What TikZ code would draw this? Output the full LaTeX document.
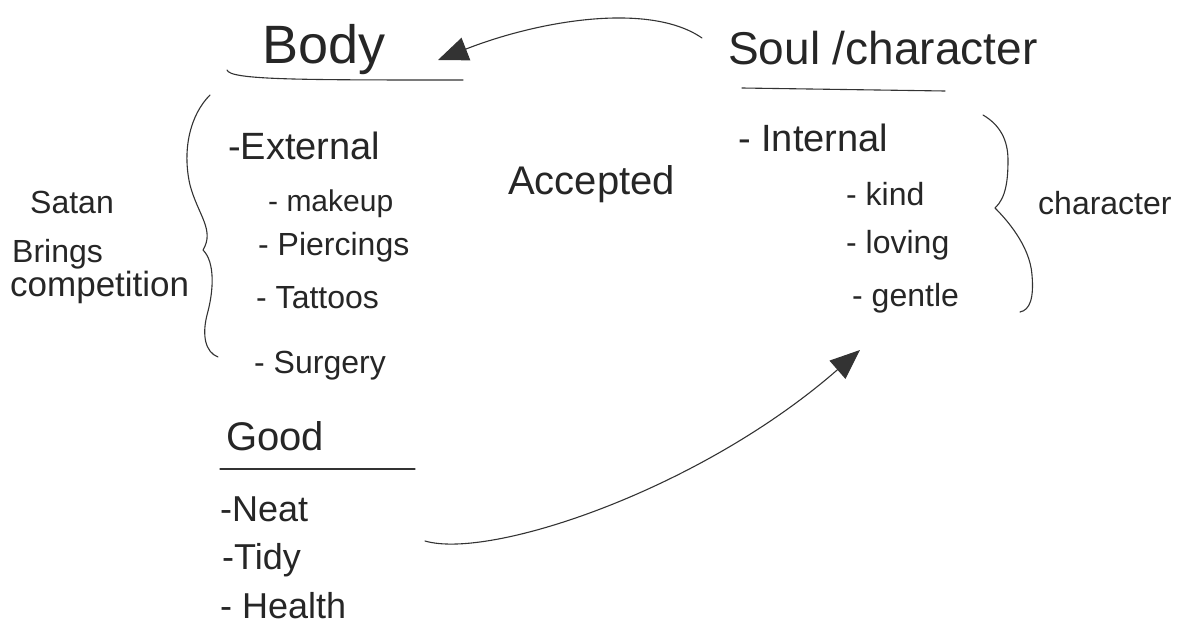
\documentclass[tikz,border=0pt]{standalone}
\usepackage{fontspec}
\setmainfont{Liberation Sans}
\usetikzlibrary{arrows.meta}

\begin{document}
\begin{tikzpicture}[x=1pt, y=-1pt,
    ink/.style={draw=black!80, line width=1.1pt, line cap=round, line join=round},
    hand/.style={anchor=west, inner sep=0pt, text=black!85, font=\fontsize{32}{36}\selectfont},
    head/.style={hand, font=\fontsize{46}{50}\selectfont},
    bigtip/.style={ink, -{Triangle[length=30pt, width=24pt]}}]

            \useasboundingbox (0,0) rectangle (1186,629);

            \node[hand, font=\fontsize{54}{58}\selectfont] (body) at (262,50) {Body};
            \node[head] (soul) at (728,48) {Soul /character};
            \node[hand, font=\fontsize{40}{44}\selectfont] (accepted) at (508,184) {Accepted};
            \node[hand, font=\fontsize{40}{44}\selectfont] (good) at (226,436) {Good};

            \node[hand, font=\fontsize{38}{42}\selectfont] (external) at (228,146) {-External};
            \node[hand, font=\fontsize{30}{34}\selectfont] (makeup) at (268,204) {- makeup};
            \node[hand] (piercings) at (258,247) {- Piercings};
            \node[hand] (tattoos) at (256,298) {- Tattoos};
            \node[hand] (surgery) at (254,366) {- Surgery};

            \node[hand, font=\fontsize{38}{42}\selectfont] (internal) at (738,138) {- Internal};
            \node[hand] (kind) at (846,194) {- kind};
            \node[hand] (loving) at (846,245) {- loving};
            \node[hand] (gentle) at (852,298) {- gentle};
            \node[hand] (character) at (1038,203) {character};

            \node[hand] (satan) at (30,202) {Satan};
            \node[hand] (brings) at (12,254) {Brings};
            \node[hand, font=\fontsize{35}{40}\selectfont] (competition) at (10,287) {competition};

            \node[hand, font=\fontsize{36}{40}\selectfont] (neat) at (220,509) {-Neat};
            \node[hand, font=\fontsize{36}{40}\selectfont] (tidy) at (222,560) {-Tidy};
            \node[hand, font=\fontsize{36}{40}\selectfont] (health) at (220,606) {- Health};

            \draw[ink] (227,70) .. controls (230,80) and (300,80) .. (463,80);
            \draw[ink] (742,88) -- (945,91);
            \draw[ink] (220,469) -- (415,469);

            \draw[ink] (210,95) .. controls (190,115) and (182,150) .. (190,185)
                .. controls (198,215) and (215,230) .. (203,250)
                .. controls (215,262) and (214,290) .. (207,315)
                .. controls (202,335) and (205,352) .. (218,357);
            \draw[ink] (983,115) .. controls (1000,125) and (1008,140) .. (1008,160)
                .. controls (1008,180) and (1006,198) .. (995,208)
                .. controls (1005,218) and (1030,245) .. (1032,275)
                .. controls (1034,298) and (1030,310) .. (1020,312);

            \coordinate (soulend) at (702,38);
            \coordinate (bodytip) at (438,60);
            \coordinate (tidyend) at (425,541);
            \coordinate (soultip) at (860,350);

            \draw[bigtip] (soulend) .. controls (650,2) and (540,20) .. (bodytip);
            \draw[bigtip] (tidyend) .. controls (490,560) and (700,490) .. (soultip);
\end{tikzpicture}
\end{document}
